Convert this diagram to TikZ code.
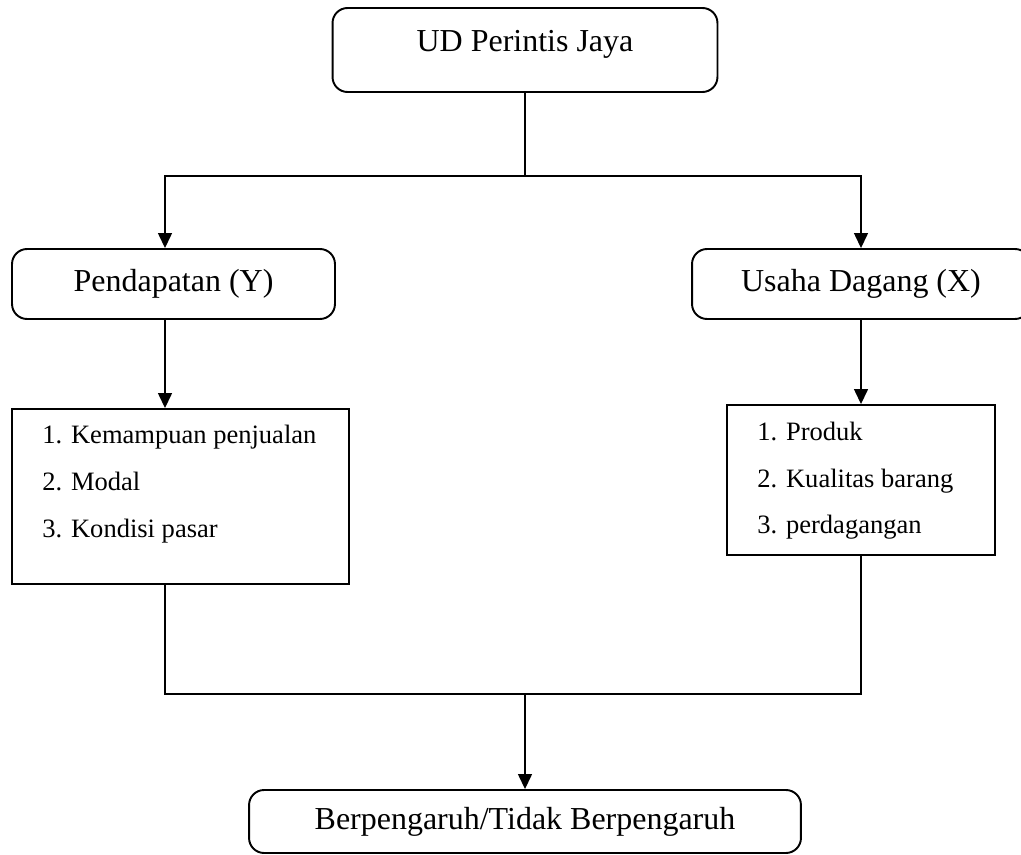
\documentclass[tikz,border=0pt]{standalone}
\usepackage{fontspec}
\setmainfont{Liberation Serif}
\usetikzlibrary{arrows.meta}

\begin{document}
\begin{tikzpicture}[x=0.02cm, y=-0.02cm,
		roundbox/.style={draw, line width=1.1pt, rounded corners=0.3cm, inner sep=0pt, font=\fontsize{18.2}{22}\selectfont},
		listbox/.style={draw, line width=1.1pt, inner sep=0pt},
		item/.style={anchor=base west, inner sep=0pt, font=\fontsize{15.1}{18}\selectfont},
		link/.style={line width=0.8pt},
		arrow/.style={link, -{Triangle[length=0.3cm, width=0.28cm]}}]
			%%%%% START %%%%%
			
			\useasboundingbox (0, 0) rectangle (1021, 855);
			
			\node[roundbox, minimum width=7.7cm, minimum height=1.68cm, text height=0.88cm, text depth=0.8cm] (firm) at (525, 50) {UD Perintis Jaya};
			
			\node[roundbox, minimum width=6.46cm, minimum height=1.4cm] (income) at (173.5, 284) {Pendapatan (Y)};
			\node[roundbox, minimum width=6.76cm, minimum height=1.4cm] (trade) at (861, 284) {Usaha Dagang (X)};
			
			\node[listbox, minimum width=6.74cm, minimum height=3.5cm] (incomelist) at (180.5, 496.5) {};
			\node[item] (income1) at (42, 443) {1. Kemampuan penjualan};
			\node[item] (income2) at (42, 490) {2. Modal};
			\node[item] (income3) at (42, 537) {3. Kondisi pasar};
			
			\node[listbox, minimum width=5.36cm, minimum height=3cm] (tradelist) at (861, 480) {};
			\node[item] (trade1) at (757, 440) {1. Produk};
			\node[item] (trade2) at (757, 487) {2. Kualitas barang};
			\node[item] (trade3) at (757, 533) {3. perdagangan};
			
			\node[roundbox, minimum width=11.04cm, minimum height=1.26cm] (result) at (525, 821.5) {Berpengaruh/Tidak Berpengaruh};
			
			\coordinate (forkl) at (165, 176);
			\coordinate (fork) at (firm.south |- forkl);
			\coordinate (join) at (525, 694);
			
			\draw[arrow] (firm.south) |- (forkl) -- (income.north -| forkl);
			\draw[arrow] (fork) -| (trade.north);
			
			\draw[arrow] (income.south -| forkl) -- (incomelist.north -| forkl);
			\draw[arrow] (trade.south) -- (tradelist.north);
			
			\draw[link] (incomelist.south -| forkl) |- (join);
			\draw[link] (tradelist.south) |- (join);
			\draw[arrow] (join) -- (result.north);
			
			%%%%% END %%%%%
\end{tikzpicture}
\end{document}
